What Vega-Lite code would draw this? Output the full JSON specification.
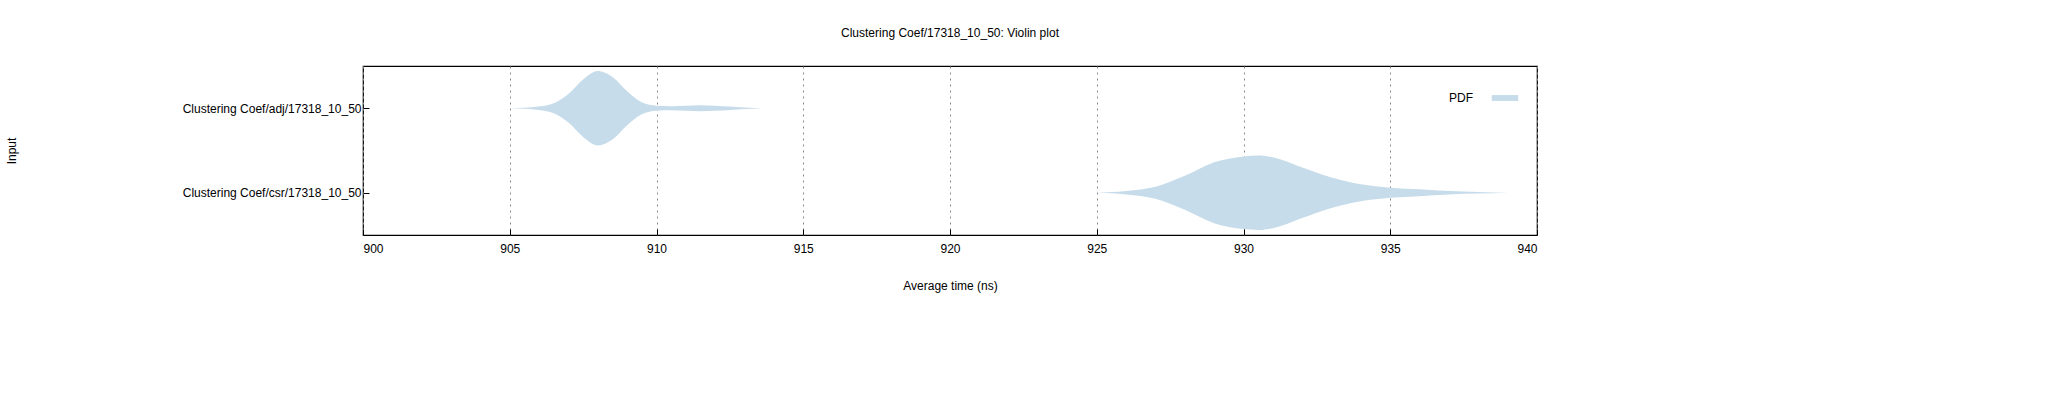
{
  "$schema": "https://vega.github.io/schema/vega-lite/v6.json",
  "autosize": "none",
  "width": 1174,
  "height": 169,
  "padding": {"left": 363, "top": 66, "right": 511, "bottom": 165},
  "background": "white",
  "config": {
    "font": "Liberation Sans",
    "view": {"stroke": "black", "strokeWidth": 1.2},
    "axis": {"labelFontSize": 12, "titleFontSize": 12, "labelColor": "black", "titleColor": "black", "titleFontWeight": "normal", "domain": false, "tickColor": "black"}
  },
  "title": {"text": "Clustering Coef/17318_10_50: Violin plot", "fontSize": 12, "fontWeight": "normal", "offset": 26},
  "data": {"values": [
    {"g": "adj", "x": 905, "lo": 1.5, "hi": 1.5},
    {"g": "adj", "x": 905.5, "lo": 1.495, "hi": 1.505},
    {"g": "adj", "x": 906, "lo": 1.48, "hi": 1.52},
    {"g": "adj", "x": 906.5, "lo": 1.44, "hi": 1.56},
    {"g": "adj", "x": 907, "lo": 1.33, "hi": 1.67},
    {"g": "adj", "x": 907.5, "lo": 1.16, "hi": 1.84},
    {"g": "adj", "x": 908, "lo": 1.06, "hi": 1.94},
    {"g": "adj", "x": 908.5, "lo": 1.13, "hi": 1.87},
    {"g": "adj", "x": 909, "lo": 1.3, "hi": 1.7},
    {"g": "adj", "x": 909.5, "lo": 1.43, "hi": 1.57},
    {"g": "adj", "x": 910, "lo": 1.47, "hi": 1.53},
    {"g": "adj", "x": 910.5, "lo": 1.475, "hi": 1.525},
    {"g": "adj", "x": 911, "lo": 1.47, "hi": 1.53},
    {"g": "adj", "x": 911.5, "lo": 1.465, "hi": 1.535},
    {"g": "adj", "x": 912, "lo": 1.47, "hi": 1.53},
    {"g": "adj", "x": 912.5, "lo": 1.48, "hi": 1.52},
    {"g": "adj", "x": 913, "lo": 1.49, "hi": 1.51},
    {"g": "adj", "x": 913.6, "lo": 1.5, "hi": 1.5},
    {"g": "csr", "x": 925, "lo": 0.5, "hi": 0.5},
    {"g": "csr", "x": 926, "lo": 0.48, "hi": 0.52},
    {"g": "csr", "x": 927, "lo": 0.43, "hi": 0.57},
    {"g": "csr", "x": 928, "lo": 0.3, "hi": 0.7},
    {"g": "csr", "x": 929, "lo": 0.14, "hi": 0.86},
    {"g": "csr", "x": 930, "lo": 0.07, "hi": 0.93},
    {"g": "csr", "x": 930.5, "lo": 0.06, "hi": 0.94},
    {"g": "csr", "x": 931, "lo": 0.08, "hi": 0.92},
    {"g": "csr", "x": 932, "lo": 0.2, "hi": 0.8},
    {"g": "csr", "x": 933, "lo": 0.32, "hi": 0.68},
    {"g": "csr", "x": 934, "lo": 0.4, "hi": 0.6},
    {"g": "csr", "x": 935, "lo": 0.44, "hi": 0.56},
    {"g": "csr", "x": 936, "lo": 0.46, "hi": 0.54},
    {"g": "csr", "x": 937, "lo": 0.48, "hi": 0.52},
    {"g": "csr", "x": 938, "lo": 0.49, "hi": 0.51},
    {"g": "csr", "x": 939, "lo": 0.5, "hi": 0.5}
  ]},
  "mark": {"type": "area", "orient": "vertical", "opacity": 1, "interpolate": "monotone"},
  "encoding": {
    "detail": {"field": "g"},
    "x": {"field": "x", "type": "quantitative", "scale": {"domain": [900, 940], "nice": false},
      "axis": {"values": [900, 905, 910, 915, 920, 925, 930, 935, 940], "title": "Average time (ns)", "titlePadding": 26, "labelPadding": 14, "tickSize": -6, "grid": true, "gridDash": [2, 4], "gridColor": "#888"}},
    "y": {"field": "lo", "type": "quantitative", "scale": {"domain": [0, 2], "nice": false},
      "axis": {"values": [0.5, 1.5], "labelExpr": "datum.value == 1.5 ? 'Clustering Coef/adj/17318_10_50' : 'Clustering Coef/csr/17318_10_50'", "title": "Input", "titleX": -345, "tickSize": -6, "labelPadding": 8, "grid": false}},
    "y2": {"field": "hi"},
    "color": {"datum": "PDF", "scale": {"range": ["#c6dcea"]},
      "legend": {"title": null, "orient": "top-right", "offset": 18, "labelFontSize": 12, "direction": "horizontal", "symbolType": "M-1,-0.22H1V0.22H-1Z", "symbolSize": 700, "labelOffset": -70, "padding": 0}}
  }
}
